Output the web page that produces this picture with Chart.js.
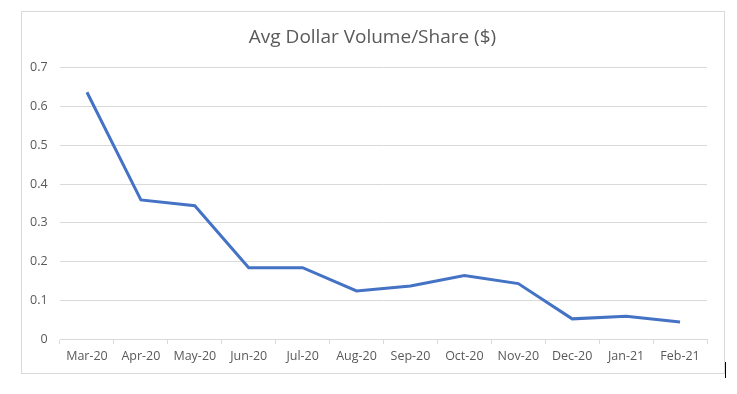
<!DOCTYPE html>
<html>
<head>
<meta charset="utf-8">
<script src="https://cdn.jsdelivr.net/npm/chart.js@4"></script>
<style>
  html, body { margin: 0; padding: 0; background: #fff; }
  #wrap { width: 737px; height: 394px; }
</style>
</head>
<body>
<div id="wrap"><canvas id="volume-chart"></canvas></div>
<script>
// Chart data
const months = ['Mar-20', 'Apr-20', 'May-20', 'Jun-20', 'Jul-20', 'Aug-20', 'Sep-20', 'Oct-20', 'Nov-20', 'Dec-20', 'Jan-21', 'Feb-21'];
const avgDollarVolume = [0.637, 0.359, 0.344, 0.184, 0.184, 0.124, 0.137, 0.164, 0.143, 0.052, 0.059, 0.044];
const yTicks = [0, 0.1, 0.2, 0.3, 0.4, 0.5, 0.6, 0.7];

const colors = {
  line: '#4472C4',
  text: '#595959',
  grid: '#D9D9D9'
};

Chart.defaults.font.family = "'Open Sans', sans-serif";
Chart.defaults.color = colors.text;

// outer frame like the spreadsheet chart box
const frame = {
  id: 'frame',
  afterDraw(chart) {
    const ctx = chart.ctx;
    ctx.save();
    ctx.strokeStyle = colors.grid;
    ctx.lineWidth = 1;
    ctx.strokeRect(21.5, 11.5, 703, 362);
    ctx.strokeStyle = '#000';
    ctx.beginPath();
    ctx.moveTo(725.5, 362);
    ctx.lineTo(725.5, 378);
    ctx.stroke();
    ctx.restore();
  }
};

new Chart(document.getElementById('volume-chart'), {
  type: 'line',
  data: {
    labels: months,
    datasets: [{
      label: 'Avg Dollar Volume/Share ($)',
      data: avgDollarVolume,
      borderColor: colors.line,
      borderWidth: 3,
      pointRadius: 0,
      tension: 0,
      fill: false
    }]
  },
  options: {
    responsive: true,
    maintainAspectRatio: false,
    animation: false,
    layout: { padding: { left: 38, right: 30, top: 0, bottom: 25 } },
    plugins: {
      legend: { display: false },
      tooltip: { enabled: false },
      title: {
        display: true,
        text: 'Avg Dollar Volume/Share ($)',
        color: colors.text,
        font: { size: 19, weight: 'normal' },
        padding: { top: 26, bottom: 19 }
      }
    },
    scales: {
      y: {
        min: 0,
        max: 0.7,
        afterFit: function(scale) { scale.width = 22; },
        afterBuildTicks: function(scale) {
          scale.ticks = yTicks.map(v => ({ value: v }));
        },
        ticks: {
          mirror: true,
          crossAlign: 'far',
          padding: -30,
          font: { size: 12.5 },
          callback: function(value) { return String(+value.toFixed(1)); }
        },
        grid: { color: colors.grid, drawTicks: false },
        border: { display: false }
      },
      x: {
        offset: true,
        ticks: { padding: 5, font: { size: 12.5 }, maxRotation: 0 },
        grid: { display: true, drawOnChartArea: false, offset: true, tickLength: 5, color: colors.grid },
        border: { display: true, color: colors.grid }
      }
    }
  },
  plugins: [frame]
});
</script>
</body>
</html>
